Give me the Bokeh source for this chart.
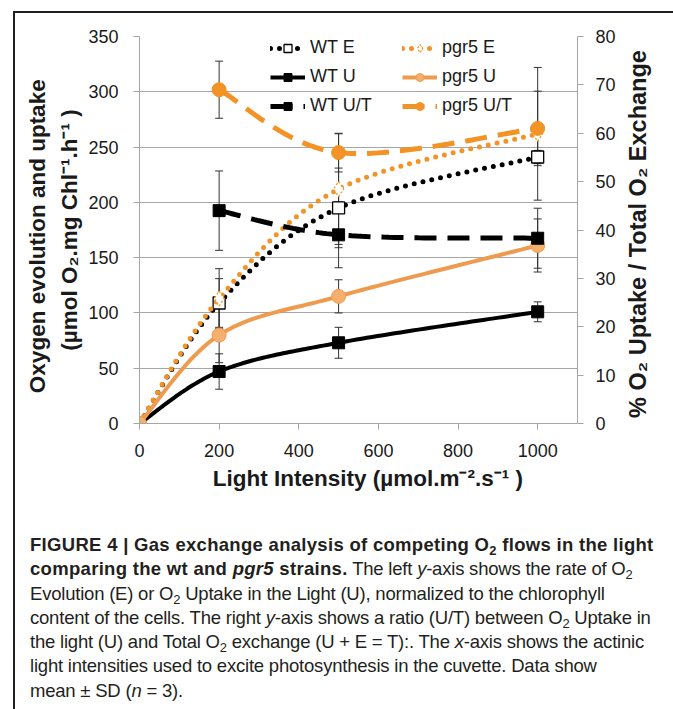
import numpy as np
from bokeh.plotting import figure
from bokeh.models import (Range1d, LinearAxis, Legend, LegendItem, Whisker, Label,
                          ColumnDataSource, Div, FixedTicker, TeeHead)
from bokeh.layouts import column, row
from bokeh.embed import file_html
from bokeh.resources import INLINE

# ---------------- data ----------------
light = [0, 200, 500, 1000]
wt_e = [0, 109, 195, 241]
wt_e_sd = [0, 22, 36, 6]
wt_u = [0, 47, 73, 101]
wt_u_sd = [0, 16, 14, 9]
pgr5_e = [0, 113, 212, 262]
pgr5_e_sd = [0, 27, 50, 60]
pgr5_u = [0, 80, 115, 161]
pgr5_u_sd = [0, 25, 15, 24]

light_ut = [200, 500, 1000]
wt_ut = [44, 39, 38.3]
wt_ut_sd = [8.2, 6.8, 6.2]
pgr5_ut = [69, 56, 61]
pgr5_ut_sd = [5.9, 4.0, 7.7]

x_ticks = [0, 200, 400, 600, 800, 1000]
left_ticks = [0, 50, 100, 150, 200, 250, 300, 350]
right_ticks = [0, 10, 20, 30, 40, 50, 60, 70, 80]

# ---------------- styles ----------------
FONT = "Liberation Sans"
BLACK = "#000000"
ORANGE = "#F39325"
ORANGE_U = "#EE9B4F"
ORANGE_U_FILL = "#F6B06E"
GRID = "#A6A6A6"
TXT = "#1a1a1a"
W_MAIN, W_R, H = 606, 48, 480


def smooth(xs, ys, n=40):
    """Excel-like smoothed line (cubic Bezier through the points)."""
    xs = np.asarray(xs, float)
    ys = np.asarray(ys, float)
    m = len(xs)
    ox, oy = [], []
    for i in range(m - 1):
        i0 = max(i - 1, 0)
        i3 = min(i + 2, m - 1)
        c1x = xs[i] + (xs[i + 1] - xs[i0]) / 6
        c1y = ys[i] + (ys[i + 1] - ys[i0]) / 6
        c2x = xs[i + 1] - (xs[i3] - xs[i]) / 6
        c2y = ys[i + 1] - (ys[i3] - ys[i]) / 6
        t = np.linspace(0, 1, n, endpoint=(i == m - 2))
        a, b, c, d = (1 - t) ** 3, 3 * (1 - t) ** 2 * t, 3 * (1 - t) * t ** 2, t ** 3
        ox.extend(a * xs[i] + b * c1x + c * c2x + d * xs[i + 1])
        oy.extend(a * ys[i] + b * c1y + c * c2y + d * ys[i + 1])
    return ox, oy


p = figure(width=W_MAIN, height=H, x_range=Range1d(0, 1100), y_range=Range1d(0, 350),
           output_backend="svg", toolbar_location=None,
           min_border_left=124, min_border_right=44, min_border_top=23, min_border_bottom=70)
p.extra_y_ranges = {"ratio": Range1d(0, 80)}
p.outline_line_color = None
p.background_fill_color = "white"
p.border_fill_color = "white"

rax = LinearAxis(y_range_name="ratio", ticker=FixedTicker(ticks=right_ticks))
p.add_layout(rax, "right")

for ax in (p.xaxis[0], p.yaxis[0], rax):
    ax.axis_line_color = GRID
    ax.major_tick_line_color = GRID
    ax.minor_tick_line_color = None
    ax.major_tick_out = 6
    ax.major_tick_in = 0
    ax.major_label_text_font = FONT
    ax.major_label_text_font_size = "18px"
    ax.major_label_text_color = TXT
    ax.axis_label_text_font = FONT
    ax.axis_label_text_font_style = "bold"
    ax.axis_label_text_font_size = "22.5px"
    ax.axis_label_text_color = TXT

p.xaxis[0].ticker = FixedTicker(ticks=x_ticks)
p.xaxis[0].major_label_standoff = 14
p.xaxis[0].axis_label = "\u00a0\u00a0\u00a0Light Intensity (µmol.m⁻².s⁻¹ )"
p.xaxis[0].axis_label_standoff = 6

p.yaxis[0].ticker = FixedTicker(ticks=left_ticks)
p.yaxis[0].major_label_standoff = 15
p.yaxis[0].axis_label = "Oxygen evolution and uptake\u00a0\u00a0\n(µmol O₂.mg Chl⁻¹.h⁻¹ )"
p.yaxis[0].axis_label_standoff = 3
p.yaxis[0].axis_label_text_line_height = 1.28

rax.major_label_standoff = 12

p.xgrid.visible = False
p.ygrid.ticker = FixedTicker(ticks=left_ticks)
p.ygrid.grid_line_color = GRID
p.ygrid.grid_line_width = 1

DOT = dict(line_dash="0 9", line_cap="round", line_width=5)
DASH = dict(line_dash="22 11", line_width=5)

# primary axis series
sx, sy = smooth(light, wt_e)
l_wte = p.line(sx, sy, line_color=BLACK, **DOT)
m_wte = p.scatter(light, wt_e, marker="square", size=12, fill_color="white",
                  line_color=BLACK, line_width=1.3)

sx, sy = smooth(light, pgr5_e)
l_pe = p.line(sx, sy, line_color=ORANGE, **DOT)
m_pe = p.scatter(light, pgr5_e, marker="diamond", size=15, fill_color="white",
                 line_color=ORANGE, line_width=1.3, line_dash="2 2")

sx, sy = smooth(light, wt_u)
l_wtu = p.line(sx, sy, line_color=BLACK, line_width=4)
m_wtu = p.scatter(light, wt_u, marker="square", size=12, fill_color=BLACK, line_color=BLACK)

sx, sy = smooth(light, pgr5_u)
l_pu = p.line(sx, sy, line_color=ORANGE_U, line_width=4)
m_pu = p.scatter(light, pgr5_u, marker="circle", size=14, fill_color=ORANGE_U_FILL,
                 line_color=ORANGE_U, line_width=1)

# secondary axis series
sx, sy = smooth(light_ut, wt_ut)
l_wtut = p.line(sx, sy, line_color=BLACK, y_range_name="ratio", **DASH)
m_wtut = p.scatter(light_ut, wt_ut, marker="square", size=12, fill_color=BLACK,
                   line_color=BLACK, y_range_name="ratio")

sx, sy = smooth(light_ut, pgr5_ut)
l_put = p.line(sx, sy, line_color=ORANGE, y_range_name="ratio", **DASH)
m_put = p.scatter(light_ut, pgr5_ut, marker="circle", size=14, fill_color=ORANGE,
                  line_color=ORANGE, y_range_name="ratio")


def add_err(xs, ys, sds, rng=None):
    xx = [x for x, s in zip(xs, sds) if s > 0]
    up = [y + s for y, s in zip(ys, sds) if s > 0]
    lo = [y - s for y, s in zip(ys, sds) if s > 0]
    src = ColumnDataSource(dict(x=xx, upper=up, lower=lo))
    kw = dict(source=src, base="x", upper="upper", lower="lower", dimension="height",
              line_color="#333333", line_width=1,
              upper_head=TeeHead(size=8, line_color="#333333", line_width=1),
              lower_head=TeeHead(size=8, line_color="#333333", line_width=1))
    if rng:
        kw["y_range_name"] = rng
    p.add_layout(Whisker(**kw))


add_err(light, wt_e, wt_e_sd)
add_err(light, pgr5_e, pgr5_e_sd)
add_err(light, wt_u, wt_u_sd)
add_err(light, pgr5_u, pgr5_u_sd)
add_err(light_ut, wt_ut, wt_ut_sd, "ratio")
add_err(light_ut, pgr5_ut, pgr5_ut_sd, "ratio")

# legends (two columns)
LEG = dict(border_line_color=None, background_fill_alpha=0, padding=0, margin=0,
           spacing=8, label_height=20, glyph_height=20, glyph_width=35, label_standoff=5,
           label_text_font=FONT, label_text_font_size="18px", label_text_color=TXT)
leg1 = Legend(items=[LegendItem(label="WT E", renderers=[l_wte, m_wte]),
                     LegendItem(label="WT U", renderers=[l_wtu, m_wtu]),
                     LegendItem(label="WT U/T", renderers=[l_wtut, m_wtut])],
              location=(131, 307), **LEG)
leg2 = Legend(items=[LegendItem(label="pgr5 E", renderers=[l_pe, m_pe]),
                     LegendItem(label="pgr5 U", renderers=[l_pu, m_pu]),
                     LegendItem(label="pgr5 U/T", renderers=[l_put, m_put])],
              location=(263, 307), **LEG)
p.add_layout(leg1)
p.add_layout(leg2)

# right-hand axis title (reads bottom to top), in its own narrow strip
pr = figure(width=W_R, height=H, x_range=Range1d(0, W_R), y_range=Range1d(0, H),
            output_backend="svg", toolbar_location=None,
            x_axis_location=None, y_axis_location=None, min_border=0)
pr.outline_line_color = None
pr.xgrid.visible = False
pr.ygrid.visible = False
pr.add_layout(Label(x=16, y=H - 245, text="% O₂ Uptake / Total O₂ Exchange", angle=np.pi / 2,
                    text_font=FONT, text_font_style="bold", text_font_size="23.5px",
                    text_color=TXT, text_align="center", text_baseline="middle"))

# caption
SUB = '<sub style="font-size:0.7em;line-height:0;vertical-align:-0.3em">2</sub>'
cap_lines = [
    f"<b>FIGURE 4 | Gas exchange analysis of competing O{SUB} flows in the light</b>",
    f"<b>comparing the wt and <i>pgr5</i> strains.</b> The left <i>y</i>-axis shows the rate of O{SUB}",
    f"Evolution (E) or O{SUB} Uptake in the Light (U), normalized to the chlorophyll",
    f"content of the cells. The right <i>y</i>-axis shows a ratio (U/T) between O{SUB} Uptake in",
    f"the light (U) and Total O{SUB} exchange (U + E = T):. The <i>x</i>-axis shows the actinic",
    "light intensities used to excite photosynthesis in the cuvette. Data show",
    "mean ± SD (<i>n</i> = 3).",
]
cap_html = ('<style>.cap b{letter-spacing:0.3px}</style>'
            '<div class="cap" style="font-family:\'Liberation Sans\',Arial,sans-serif;'
            'font-size:18.5px;line-height:24.3px;color:#231f20;white-space:nowrap;'
            'letter-spacing:-0.21px;padding:35px 0 0 10px;">' + "<br>".join(cap_lines) + "</div>")
cap = Div(text=cap_html, width=W_MAIN + W_R, height=214)

layout = column(row(p, pr), cap, margin=(11, 0, 0, 13),
                styles={"border-top": "2px solid #231f20", "border-left": "2px solid #231f20",
                        "border-right": "2px solid #231f20"})

open("out.html", "w").write(file_html(layout, INLINE))
